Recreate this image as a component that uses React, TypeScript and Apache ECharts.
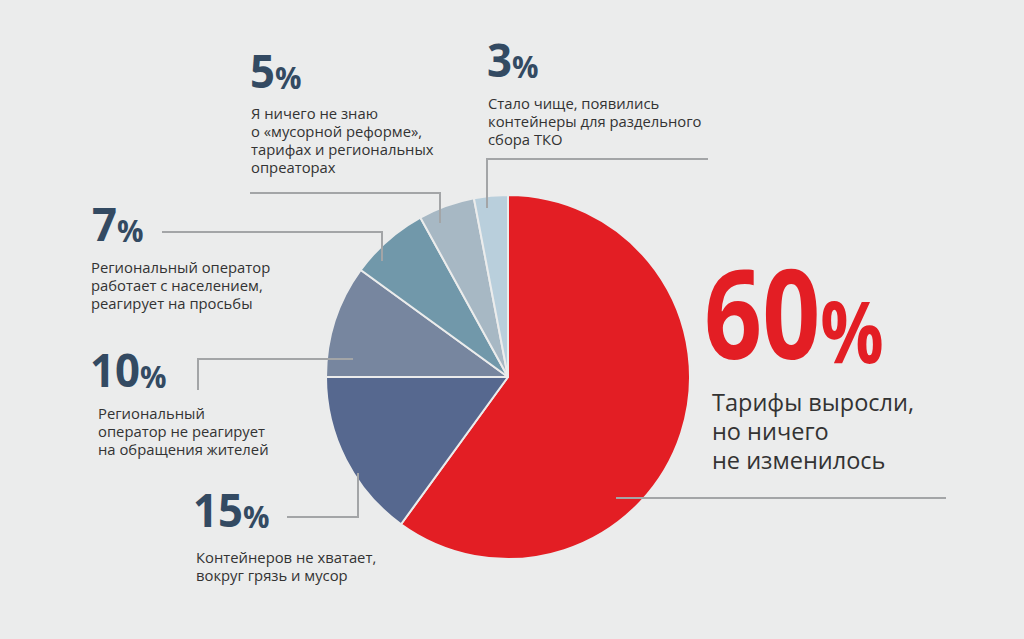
import React, { useEffect, useRef } from "react";
import * as echarts from "echarts";

// ---- data ----
const values = [60, 15, 10, 7, 5, 3];
const percentLabels = ["60", "15", "10", "7", "5", "3"];
const captions = [
  ["Тарифы выросли,", "но ничего", "не изменилось"],
  ["Контейнеров не хватает,", "вокруг грязь и мусор"],
  ["Региональный", "оператор не реагирует", "на обращения жителей"],
  ["Региональный оператор", "работает с населением,", "реагирует на просьбы"],
  ["Я ничего не знаю", "о «мусорной реформе»,", "тарифах и региональных", "опреаторах"],
  ["Стало чище, появились", "контейнеры для раздельного", "сбора ТКО"],
];
const colors = ["#e31e24", "#56688f", "#77869f", "#7198aa", "#a7b8c4", "#b9cfdc"];

// ---- layout (positions only) ----
const BG = "#ebecec";
const LINE = "#a3a5a7";
const CENTER = [508, 377];
const RADIUS = 182;
// number position (x, digit-centre y), caption position (x, first line centre y)
const numPos = [
  [704, 311],
  [193, 509],
  [90, 369],
  [92, 223],
  [250, 70],
  [487, 59],
];
const capPos = [
  [712, 402],
  [196, 557],
  [98, 413],
  [91, 267],
  [251, 113],
  [488, 103],
];
const leaders = [
  [[616, 498], [946, 498]],
  [[287, 517], [358, 517], [358, 473]],
  [[198, 390], [198, 359], [353, 359]],
  [[162, 232], [382, 232], [382, 261]],
  [[250, 193], [440, 193], [440, 223]],
  [[487, 208], [487, 159], [708, 159]],
];

export default function App() {
  const ref = useRef<HTMLDivElement>(null);
  useEffect(() => {
    if (!ref.current) return;
    const chart = echarts.init(ref.current, undefined, { renderer: "svg" });
    const graphic: any[] = [];
    leaders.forEach((pts) => {
      graphic.push({
        type: "polyline",
        shape: { points: pts },
        style: { stroke: LINE, lineWidth: 2, fill: null },
        z: 10,
      });
    });
    values.forEach((v, i) => {
      const big = i === 0;
      const numFs = big ? 124 : 46;
      const pctFs = big ? 86 : 31;
      graphic.push({
        type: "text",
        x: numPos[i][0],
        y: numPos[i][1],
        scaleX: big ? 0.82 : 0.95,
        z: 20,
        style: {
          text: `{n|${percentLabels[i]}}{p|%}`,
          verticalAlign: "middle",
          align: "left",
          rich: {
            n: {
              fontFamily: "Open Sans",
              fontWeight: 700,
              fontSize: numFs,
              lineHeight: numFs,
              fill: big ? colors[0] : "#334a62",
              verticalAlign: "bottom",
            },
            p: {
              fontFamily: "Open Sans",
              fontWeight: 700,
              fontSize: pctFs,
              lineHeight: pctFs,
              fill: big ? colors[0] : "#334a62",
              verticalAlign: "bottom",
            },
          },
        },
      });
      const lh = big ? 29 : 18;
      captions[i].forEach((line, j) => {
        graphic.push({
          type: "text",
          x: capPos[i][0],
          y: capPos[i][1] + j * lh,
          z: 20,
          style: {
            text: line,
            fontFamily: "Open Sans",
            fontSize: big ? 23.5 : 14.8,
            fill: "#333333",
            verticalAlign: "middle",
            align: "left",
          },
        });
      });
    });

    chart.setOption({
      animation: false,
      backgroundColor: BG,
      series: [
        {
          type: "pie",
          center: CENTER,
          radius: RADIUS,
          startAngle: 90,
          clockwise: true,
          label: { show: false },
          labelLine: { show: false },
          emphasis: { disabled: true },
          itemStyle: { borderColor: BG, borderWidth: 2 },
          data: values.map((v, i) => ({
            value: v,
            name: percentLabels[i] + "%",
            itemStyle: { color: colors[i] },
          })),
        },
      ],
      graphic,
    });
    return () => chart.dispose();
  }, []);
  return (
    <div
      ref={ref}
      style={{ position: "absolute", left: 0, top: 0, width: 1024, height: 639 }}
    />
  );
}
